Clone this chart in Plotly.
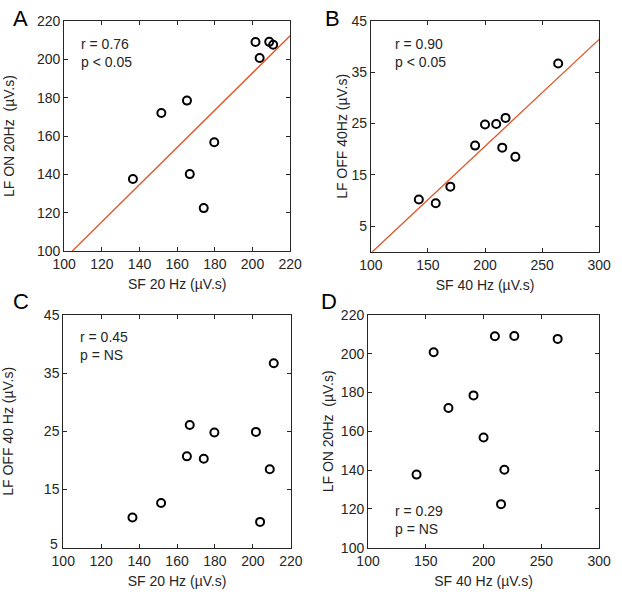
import numpy as np
import plotly.graph_objects as go

# Data (10 subjects)
sf20 = [136.5, 151.6, 165.2, 166.7, 174.1, 179.7, 201.6, 203.8, 208.9, 211.0]
sf40 = [142.0, 169.6, 191.3, 218.0, 215.1, 200.0, 209.8, 156.8, 226.6, 264.1]
lf_on20 = [137.7, 172.0, 178.5, 140.2, 122.5, 156.8, 209.0, 200.7, 209.1, 207.6]
lf_off40 = [10.2, 12.7, 20.7, 26.1, 20.3, 24.8, 24.9, 9.45, 18.5, 36.7]

stats_text = ["r = 0.76<br>p &lt; 0.05", "r = 0.90<br>p &lt; 0.05",
              "r = 0.45<br>p = NS", "r = 0.29<br>p = NS"]
panel_labels = ["A", "B", "C", "D"]
x_titles = ["SF 20 Hz (µV.s)", "SF 40 Hz (µV.s)", "SF 20 Hz (µV.s)", "SF 40 Hz (µV.s)"]
y_titles = ["LF ON 20Hz  (µV.s)", "LF OFF 40Hz (µV.s)", "LF OFF 40 Hz (µV.s)", "LF ON 20Hz  (µV.s)"]
x_ranges = [[100, 220], [100, 300], [100, 220], [100, 300]]
y_ranges = [[100, 220], [0, 45], [5, 45], [100, 220]]
x_ticks = [list(range(100, 221, 20)), list(range(100, 301, 50)),
           list(range(100, 221, 20)), list(range(100, 301, 50))]
y_ticks = [list(range(100, 221, 20)), [5, 15, 25, 35, 45],
           [5, 15, 25, 35, 45], list(range(100, 221, 20))]
pairs = [(sf20, lf_on20, True), (sf40, lf_off40, True),
         (sf20, lf_off40, False), (sf40, lf_on20, False)]

W, H = 622, 596
# plot-area pixel boxes: left, right, top, bottom
boxes = [(54.3, 289.3, 13.3, 250.0), (373.3, 610.7, 13.3, 250.5),
         (53.3, 290.0, 315.3, 554.7), (370.3, 610.7, 315.3, 554.7)]
label_pos = [(0, 11, "left"), (333, 11, "center"), (0, 302, "left"), (330, 302, "center")]
text_pos = [(70, 46), (396, 46), (69, 347.5), (396, 526.5)]
ystandoff = [19, 0, 27, 3]

FONT = "Arial, Liberation Sans, sans-serif"
AX = "#262626"
fig = go.Figure()
layout = {}
annotations = []
for i, (xs, ys, fit) in enumerate(pairs):
    n = "" if i == 0 else str(i + 1)
    xa, ya = "x" + n, "y" + n
    fig.add_trace(go.Scatter(x=xs, y=ys, mode="markers", xaxis=xa, yaxis=ya,
                             marker=dict(symbol="circle-open", size=8,
                                         color="black", line=dict(width=2, color="black")),
                             showlegend=False, hoverinfo="skip"))
    if fit:
        k, b = np.polyfit(xs, ys, 1)
        lx = np.array(x_ranges[i], dtype=float)
        fig.add_trace(go.Scatter(x=lx, y=k * lx + b, mode="lines", xaxis=xa, yaxis=ya,
                                 line=dict(color="#DE5322", width=1.3), showlegend=False,
                                 hoverinfo="skip"))
    l, r, t, bt = boxes[i]
    common = dict(showline=True, mirror="ticks", linecolor=AX, linewidth=1,
                  ticks="inside", ticklen=4, tickcolor=AX, showgrid=False,
                  zeroline=False, tickfont=dict(size=14, color=AX, family=FONT))
    ytext = [str(v) for v in y_ticks[i]]
    if i == 2:
        # lowest label is lifted off the corner (as in the reference); drawn below
        ytext[0] = ""
        annotations.append(dict(text=str(y_ticks[i][0]), xref=xa, yref=ya,
                                x=x_ranges[i][0], y=y_ticks[i][0], xanchor="right",
                                yanchor="middle", xshift=-3, yshift=4, showarrow=False,
                                font=dict(size=14, color=AX, family=FONT)))
    layout["xaxis" + n] = dict(domain=[l / W, r / W], anchor=ya, range=x_ranges[i],
                               tickvals=x_ticks[i],
                               title=dict(text=x_titles[i], standoff=8,
                                          font=dict(size=14, color=AX, family=FONT)),
                               **common)
    layout["yaxis" + n] = dict(domain=[1 - bt / H, 1 - t / H], anchor=xa, range=y_ranges[i],
                               tickvals=y_ticks[i], ticktext=ytext,
                               title=dict(text=y_titles[i], standoff=ystandoff[i],
                                          font=dict(size=14, color=AX, family=FONT)),
                               **common)
    lx_, ly_, anc = label_pos[i]
    annotations.append(dict(text=panel_labels[i], xref="paper", yref="paper",
                            x=lx_ / W, y=1 - ly_ / H, xanchor=anc, yanchor="middle",
                            showarrow=False, borderpad=0,
                            font=dict(size=22, color="black", family=FONT)))
    tx, ty = text_pos[i]
    annotations.append(dict(text=stats_text[i], xref="paper", yref="paper",
                            x=tx / W, y=1 - ty / H, xanchor="left", yanchor="middle",
                            align="left", showarrow=False,
                            font=dict(size=14, color=AX, family=FONT)))

fig.update_layout(width=W, height=H, margin=dict(l=0, r=0, t=0, b=0),
                  paper_bgcolor="white", plot_bgcolor="white", hovermode=False,
                  annotations=annotations, font=dict(family=FONT), **layout)
fig.write_html("out.html", config={"displayModeBar": False, "staticPlot": True},
               post_script="document.body.style.margin='0';document.body.style.overflow='hidden';")
